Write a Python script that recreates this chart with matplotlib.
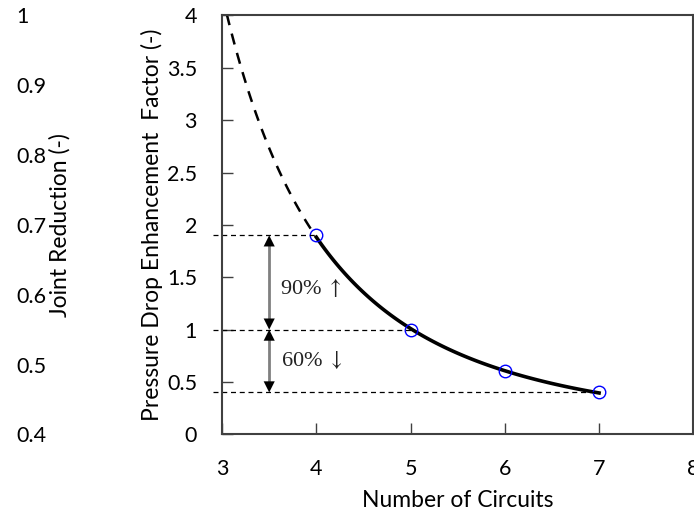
import numpy as np
import matplotlib.pyplot as plt

plt.rcParams['font.family'] = ['Lato', 'DejaVu Sans']
plt.rcParams['mathtext.fontset'] = 'stix'

# data
circuits = [4, 5, 6, 7]
pd_factor = [1.9, 1.0, 0.6, 0.4]
xticks = [3, 4, 5, 6, 7, 8]
yticks = [0, 0.5, 1, 1.5, 2, 2.5, 3, 3.5, 4]
yticklabels = ['0', '0.5', '1', '1.5', '2', '2.5', '3', '3.5', '4']
jr_ticks = [0.4, 0.5, 0.6, 0.7, 0.8, 0.9, 1.0]
jr_labels = ['0.4', '0.5', '0.6', '0.7', '0.8', '0.9', '1']
extrap_start = 3.05
arrow_x = 3.5
text_up = r'90% $\uparrow$'
text_down = r'60% $\downarrow$'

# power-law trend line fitted through the points
b, ln_a = np.polyfit(np.log(circuits), np.log(pd_factor), 1)
def trend(x):
    return np.exp(ln_a) * x ** b

fs = 15.5
lfs = 16.5

fig = plt.figure(figsize=(6.94, 5.14), dpi=100)
pos = [0.320, 0.155, 0.679, 0.815]

# secondary (left) axis: Joint Reduction, no spine
ax2 = fig.add_axes(pos, frameon=False)
ax2.set_xlim(3, 8)
ax2.set_ylim(0.4, 1.0)
ax2.set_xticks([])
ax2.set_yticks(jr_ticks)
ax2.set_yticklabels(jr_labels, ha='left')
ax2.tick_params(axis='y', length=0, pad=148, labelsize=fs)
ax2.set_ylabel('Joint Reduction (-)', fontsize=lfs)
ax2.yaxis.set_label_coords(-0.322, 0.5)

ax = fig.add_axes(pos)
ax.patch.set_alpha(0)
ax.set_xlim(3, 8)
ax.set_ylim(0, 4)

xs_dash = np.linspace(extrap_start, circuits[0], 50)
xs_fit = np.linspace(circuits[0], circuits[-1], 100)
ax.plot(xs_dash, trend(xs_dash), color='black', lw=1.8, ls=(0, (4.5, 3.5)))
ax.plot(xs_fit, trend(xs_fit), color='black', lw=2.6)
ax.plot(circuits, pd_factor, 'o', mfc='none', mec='blue', ms=9, mew=1.0)

# horizontal guide lines
for xv, yv in zip([circuits[0], circuits[1], circuits[3]],
                  [pd_factor[0], pd_factor[1], pd_factor[3]]):
    ax.plot([2.9, xv], [yv, yv], color='black', lw=0.9, ls=(0, (4, 3)),
            clip_on=False)

# double arrows
for y0, y1 in [(pd_factor[0], pd_factor[1]), (pd_factor[1], pd_factor[3])]:
    ax.plot([arrow_x, arrow_x], [y0 - 0.08, y1 + 0.08], color='gray', lw=2)
    for yt, yf in [(y0, y0 - 0.1), (y1, y1 + 0.1)]:
        ax.annotate('', xy=(arrow_x, yt), xytext=(arrow_x, yf),
                    arrowprops=dict(arrowstyle='-|>', color='black', lw=0,
                                    mutation_scale=20, shrinkA=0, shrinkB=0))

ax.text(3.61, 1.40, text_up, fontsize=16, va='center',
        family=['Liberation Serif', 'DejaVu Serif'], color='#222222')
ax.text(3.62, 0.71, text_down, fontsize=16, va='center',
        family=['Liberation Serif', 'DejaVu Serif'], color='#222222')

ax.set_xticks(xticks)
ax.set_yticks(yticks)
ax.set_yticklabels(yticklabels)
ax.tick_params(direction='in', length=8, width=1, color='#404040',
               labelsize=fs)
ax.tick_params(axis='x', pad=18)
ax.tick_params(axis='y', pad=18)
for s in ax.spines.values():
    s.set_color('#404040')
    s.set_linewidth(1.5)

ax.set_xlabel('Number of Circuits', fontsize=lfs)
ax.xaxis.set_label_coords(0.5, -0.133)
ax.set_ylabel('Pressure Drop Enhancement  Factor (-)', fontsize=lfs)
ax.yaxis.set_label_coords(-0.125, 0.5)

fig.savefig('out.png', dpi=100)
